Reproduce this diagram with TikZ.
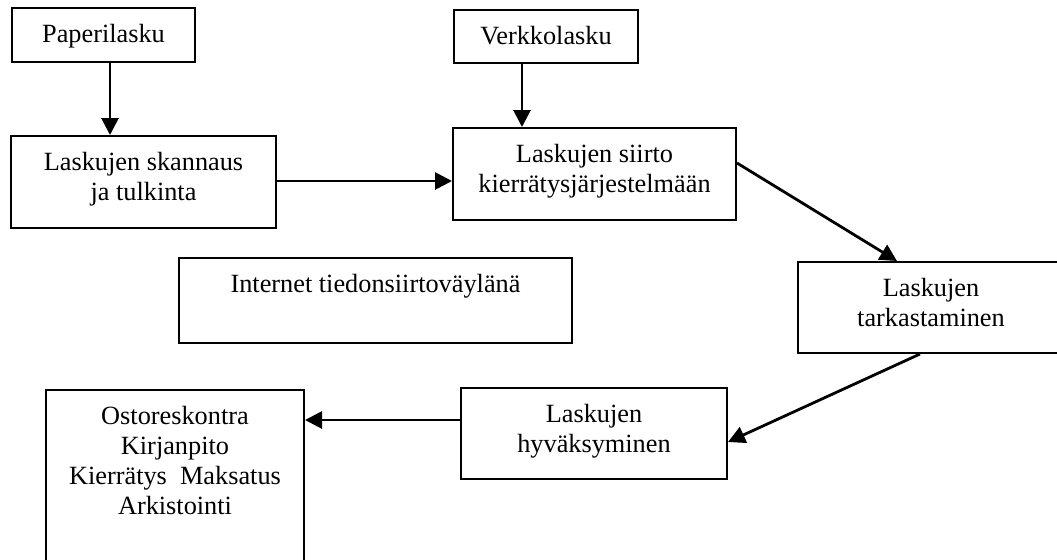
\documentclass[tikz,border=0pt]{standalone}
\usepackage{fontspec}
\setmainfont{Liberation Serif}
\usetikzlibrary{arrows.meta,calc}
% strut that fixes the height of the first text line in each box
\newcommand\firststrut{\rule{0pt}{12pt}}
\begin{document}
\begin{tikzpicture}[x=0.5pt,y=-0.5pt,
  box/.style={draw, line width=1pt, rectangle, inner sep=0pt},
  lbl/.style={inner sep=0pt, align=center, anchor=north,
    font={\fontsize{13.15pt}{15pt}\selectfont}},
  flow/.style={line width=1.4pt, -{Triangle[length=8.5pt,width=8.5pt]}}]

\useasboundingbox (0,0) rectangle (1057,559);
\fill[white] (0,0) rectangle (1057,559);
\clip (0,0) rectangle (1057,559);

% boxes
\node[box, minimum width=91.5pt, minimum height=27pt]   (pap)    at (103.5,35)    {};
\node[box, minimum width=92pt,   minimum height=26.5pt] (verk)   at (546,36.5)    {};
\node[box, minimum width=132.5pt,minimum height=46pt]   (skan)   at (143.5,182)   {};
\node[box, minimum width=141.5pt,minimum height=46pt]   (siirto) at (594.5,174)   {};
\node[box, minimum width=196.5pt,minimum height=42.5pt] (inet)   at (375.5,300.5) {};
\node[box, minimum width=133pt,  minimum height=45.5pt] (tark)   at (931,307.5)   {};
\node[box, minimum width=133pt,  minimum height=45.5pt] (hyv)    at (594,433.5)   {};
\node[box, minimum width=129pt,  minimum height=95pt]   (ostor)  at (175,485)     {};

% box texts, set from the top of each box
\node[lbl] (pap-t)    at ($(pap.north)+(0,11)$)    {\firststrut Paperilasku};
\node[lbl] (verk-t)   at ($(verk.north)+(0,11)$)   {\firststrut Verkkolasku};
\node[lbl] (skan-t)   at ($(skan.north)+(0,11)$)   {\firststrut Laskujen skannaus\\ja tulkinta};
\node[lbl] (siirto-t) at ($(siirto.north)+(0,11)$) {\firststrut Laskujen siirto\\kierrätysjärjestelmään};
\node[lbl] (inet-t)   at ($(inet.north)+(0,11)$)   {\firststrut Internet tiedonsiirtoväylänä};
\node[lbl] (tark-t)   at ($(tark.north)+(0,11)$)   {\firststrut Laskujen\\tarkastaminen};
\node[lbl] (hyv-t)    at ($(hyv.north)+(0,11)$)    {\firststrut Laskujen\\hyväksyminen};
\node[lbl] (ostor-t)  at ($(ostor.north)+(0,11)$)  {\firststrut Ostoreskontra\\Kirjanpito\\Kierrätys\ \ Maksatus\\Arkistointi};

% connectors
\coordinate (a1) at ($(pap.south)+(6.5,0)$);
\draw[flow] (a1) -- (a1 |- skan.north);

\coordinate (a2) at ($(verk.south)+(-24,0)$);
\draw[flow] (a2) -- (a2 |- siirto.north);

\coordinate (a3) at ($(skan.east)+(0,-1)$);
\draw[flow] (a3) -- (a3 -| siirto.west);

\coordinate (a4s) at ($(siirto.east)+(0,-11)$);
\coordinate (a4e) at ($(tark.north)+(-34,0)$);
\draw[flow] (a4s) -- (a4e);

\coordinate (a5s) at ($(tark.south)+(-11,0)$);
\coordinate (a5e) at ($(hyv.east)+(0,8.5)$);
\draw[flow] (a5s) -- (a5e);

\coordinate (a6) at ($(hyv.west)+(0,-13.5)$);
\draw[flow] (a6) -- (a6 -| ostor.east);
\end{tikzpicture}
\end{document}
